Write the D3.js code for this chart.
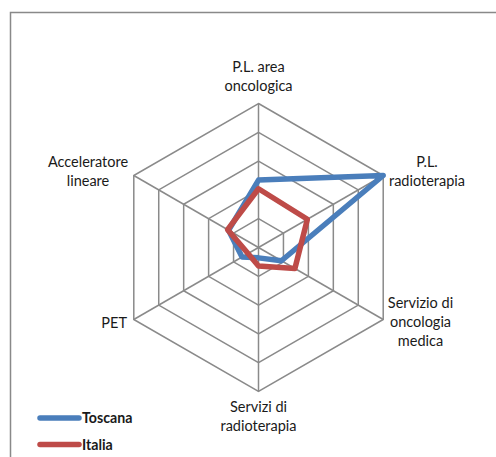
<!DOCTYPE html>
<html>
<head>
<meta charset="utf-8">
<script src="https://d3js.org/d3.v7.min.js"></script>
<style>
  body { margin: 0; background: #fff; }
  svg { font-family: Lato, "Open Sans", sans-serif; }
  .axis-label { font-size: 14.5px; fill: #1a1a1a; }
  .legend-label { font-size: 14.2px; font-weight: 700; fill: #1a1a1a; }
</style>
</head>
<body>
<svg></svg>
<script>
  // data
  var categories = [
    ["P.L. area", "oncologica"],
    ["P.L.", "radioterapia"],
    ["Servizio di", "oncologia", "medica"],
    ["Servizi di", "radioterapia"],
    ["PET"],
    ["Acceleratore", "lineare"]
  ];
  var seriesNames = ["Toscana", "Italia"];
  var toscana = [1.17, 2.5, 0.46, 0.18, 0.33, 0.6];
  var italia = [1.02, 0.98, 0.73, 0.32, 0.21, 0.62];
  var ringTicks = [0.5, 1, 1.5, 2, 2.5];

  // layout
  var width = 496, height = 457,
    cx = 258.5, cy = 247.5, radius = 144;
  var colors = { Toscana: "#4a7ebb", Italia: "#be4b48" };

  var svg = d3.select("svg").attr("width", width).attr("height", height);

  // chart border
  svg.append("path")
    .attr("d", "M10.5," + (height + 5) + "V12.5H" + (width + 5))
    .attr("fill", "none").attr("stroke", "#898989").attr("stroke-width", 1.5);

  var r = d3.scaleLinear().domain([0, 2.5]).range([0, radius]);
  var angle = d3.scaleLinear().domain([0, categories.length]).range([0, 2 * Math.PI]);

  function pt(i, v) {
    var a = angle(i);
    return [cx + r(v) * Math.sin(a), cy - r(v) * Math.cos(a)];
  }

  var g = svg.append("g");

  // rings
  g.selectAll(".ring")
    .data(ringTicks)
    .enter().append("path")
    .attr("class", "ring")
    .attr("d", function (t) {
      return "M" + categories.map(function (c, i) { return pt(i, t); }).join("L") + "Z";
    })
    .attr("fill", "none").attr("stroke", "#8a8a8a").attr("stroke-width", 1.5);

  // spokes
  g.selectAll(".spoke")
    .data(categories)
    .enter().append("line")
    .attr("class", "spoke")
    .attr("x1", cx).attr("y1", cy)
    .attr("x2", function (d, i) { return pt(i, 2.5)[0]; })
    .attr("y2", function (d, i) { return pt(i, 2.5)[1]; })
    .attr("stroke", "#8a8a8a").attr("stroke-width", 1.5);

  // series
  var lineGen = d3.lineRadial()
    .angle(function (d, i) { return angle(i); })
    .radius(function (d) { return r(d); })
    .curve(d3.curveLinearClosed);

  [["Toscana", toscana], ["Italia", italia]].forEach(function (s) {
    g.append("path")
      .attr("transform", "translate(" + [cx, cy] + ")")
      .attr("d", lineGen(s[1]))
      .attr("fill", "none")
      .attr("stroke", colors[s[0]])
      .attr("stroke-width", 5.5)
      .attr("stroke-linejoin", "round");
  });

  // category labels
  var labelPos = [
    { x: 258.5, y: 71.5, anchor: "middle" },
    { x: 427, y: 166.5, anchor: "middle" },
    { x: 420.5, y: 307.5, anchor: "middle" },
    { x: 258.5, y: 412, anchor: "middle" },
    { x: 127, y: 327.5, anchor: "end" },
    { x: 88, y: 166.5, anchor: "middle" }
  ];
  var lh = 19;
  categories.forEach(function (lines, i) {
    var p = labelPos[i];
    var t = g.append("text")
      .attr("class", "axis-label")
      .attr("text-anchor", p.anchor);
    lines.forEach(function (l, j) {
      t.append("tspan").attr("x", p.x).attr("y", p.y + j * lh).text(l);
    });
  });

  // legend
  var legend = svg.append("g").attr("transform", "translate(38,418)");
  var item = legend.selectAll(".item")
    .data(seriesNames)
    .enter().append("g")
    .attr("transform", function (d, i) { return "translate(0," + i * 26.5 + ")"; });
  item.append("line")
    .attr("x1", 2).attr("x2", 41).attr("y1", 0).attr("y2", 0)
    .attr("stroke", function (d) { return colors[d]; })
    .attr("stroke-width", 5.5)
    .attr("stroke-linecap", "round");
  item.append("text")
    .attr("class", "legend-label")
    .attr("x", 44).attr("y", 5)
    .text(function (d) { return d; });
</script>
</body>
</html>
